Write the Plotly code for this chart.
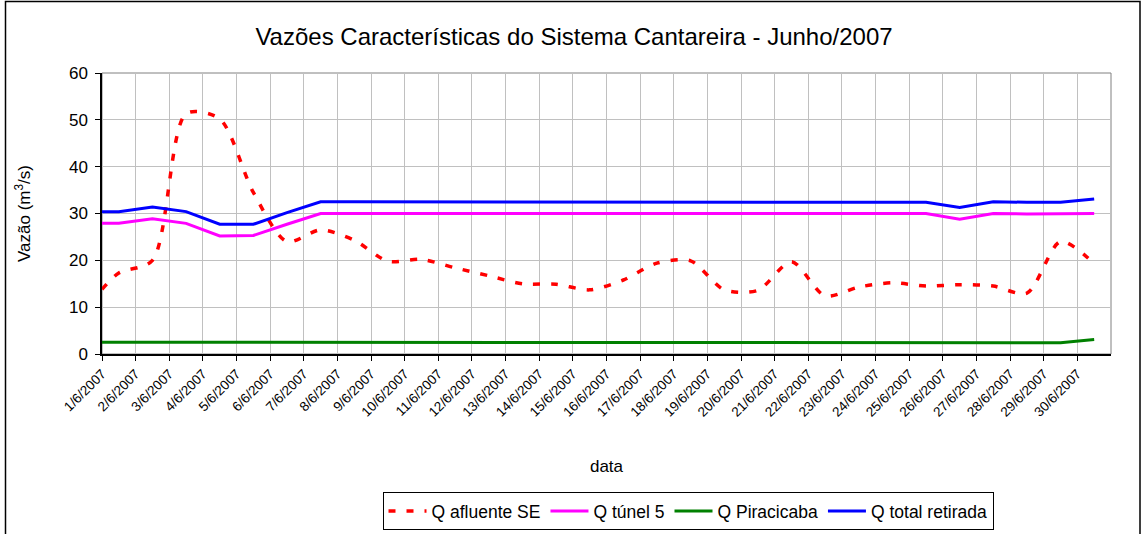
import plotly.graph_objects as go

# Datas (rótulos do eixo x)
datas = ["1/6/2007", "2/6/2007", "3/6/2007", "4/6/2007", "5/6/2007", "6/6/2007",
         "7/6/2007", "8/6/2007", "9/6/2007", "10/6/2007", "11/6/2007", "12/6/2007",
         "13/6/2007", "14/6/2007", "15/6/2007", "16/6/2007", "17/6/2007", "18/6/2007",
         "19/6/2007", "20/6/2007", "21/6/2007", "22/6/2007", "23/6/2007", "24/6/2007",
         "25/6/2007", "26/6/2007", "27/6/2007", "28/6/2007", "29/6/2007", "30/6/2007"]

# Valor no início do eixo (borda esquerda), seguido dos valores diários (m3/s)
q_afluente_se = [13.8,
                 17.3, 20.0, 51.3, 50.2, 34.5, 24.0, 26.5, 24.3, 19.8, 20.2,
                 18.4, 16.7, 15.0, 14.9, 13.7, 15.8, 19.4, 19.9, 13.7, 13.6,
                 19.7, 12.4, 14.3, 15.2, 14.5, 14.8, 14.5, 13.0, 24.0, 19.3]
q_tunel_5 = [27.9,
             27.9, 28.9, 27.9, 25.2, 25.3, 27.7, 30.0, 30.0, 30.0, 30.0,
             30.0, 30.0, 30.0, 30.0, 30.0, 30.0, 30.0, 30.0, 30.0, 30.0,
             30.0, 30.0, 30.0, 30.0, 30.0, 28.8, 30.0, 29.9, 29.9, 30.0]
q_piracicaba = [2.5,
                2.5, 2.5, 2.5, 2.5, 2.5, 2.5, 2.5, 2.5, 2.5, 2.5,
                2.5, 2.5, 2.5, 2.5, 2.5, 2.4, 2.5, 2.4, 2.5, 2.4,
                2.5, 2.4, 2.4, 2.4, 2.4, 2.5, 2.5, 2.4, 2.4, 3.1]
q_total_retirada = [30.4,
                    30.4, 31.4, 30.4, 27.7, 27.7, 30.2, 32.5, 32.5, 32.5, 32.5,
                    32.5, 32.5, 32.5, 32.5, 32.5, 32.4, 32.5, 32.4, 32.5, 32.4,
                    32.4, 32.4, 32.4, 32.4, 32.4, 31.3, 32.5, 32.4, 32.4, 33.1]

n = len(datas)
# posição: borda do eixo + centro de cada categoria
x_pos = [0] + [i + 0.5 for i in range(n)]

fig = go.Figure()
fig.add_trace(go.Scatter(x=x_pos, y=q_afluente_se, name="Q afluente SE", mode="lines",
                         line=dict(color="#FF0000", width=3.5, dash="7px,11px",
                                   shape="spline", smoothing=0.8)))
fig.add_trace(go.Scatter(x=x_pos, y=q_tunel_5, name="Q túnel 5", mode="lines",
                         line=dict(color="#FF00FF", width=3)))
fig.add_trace(go.Scatter(x=x_pos, y=q_piracicaba, name="Q Piracicaba", mode="lines",
                         line=dict(color="#008000", width=3)))
fig.add_trace(go.Scatter(x=x_pos, y=q_total_retirada, name="Q total retirada", mode="lines",
                         line=dict(color="#0000FF", width=3)))

W, H = 1144, 534
L, R, T, B = 102, 33, 73, 180
pw, ph = W - L - R, H - T - B

def px_x(v):
    return (v - L) / pw

def px_y(v):
    return (H - B - v) / ph

fig.update_layout(
    width=W, height=H,
    margin=dict(l=L, r=R, t=T, b=B, autoexpand=False),
    paper_bgcolor="white", plot_bgcolor="white",
    font=dict(family="Liberation Sans, Arial, sans-serif", color="black", size=17),
    title=dict(text="Vazões Características do Sistema Cantareira - Junho/2007",
               x=574 / W, xref="container", xanchor="center",
               y=1 - 37 / H, yref="container", yanchor="middle",
               font=dict(size=24)),
    showlegend=True,
    legend=dict(orientation="h", x=px_x(688), y=px_y(511), xanchor="center", yanchor="middle",
                bordercolor="black", borderwidth=1, font=dict(size=17.5),
                bgcolor="white", itemwidth=38),
    shapes=[
        dict(type="rect", xref="paper", yref="paper", x0=0, x1=1, y0=0, y1=1,
             line=dict(color="#808080", width=1), layer="below"),
        dict(type="rect", xref="paper", yref="paper",
             x0=px_x(5.5), x1=px_x(1140), y0=px_y(545), y1=px_y(1.5),
             line=dict(color="black", width=1.5), layer="below"),
    ],
)

fig.update_xaxes(
    range=[0, n], tickmode="array",
    tickvals=list(range(n)), ticktext=datas,
    tickangle=-45, ticks="outside", ticklen=5, tickcolor="black",
    tickfont=dict(size=13.5),
    showline=True, linecolor="black", linewidth=1.5,
    showgrid=True, gridcolor="#C0C0C0", gridwidth=1,
    zeroline=False, automargin=False,
    title=dict(text="data", font=dict(size=17), standoff=42),
)
fig.update_yaxes(
    range=[0, 60], tick0=0, dtick=10,
    ticks="outside", ticklen=5, tickcolor="black",
    tickfont=dict(size=17), ticklabelstandoff=4,
    showline=True, linecolor="black", linewidth=1.5,
    showgrid=True, gridcolor="#C0C0C0", gridwidth=1,
    zeroline=False, automargin=False,
    title=dict(text="Vazão (m<sup>3</sup>/s)", font=dict(size=17), standoff=34),
)

fig.write_html("out.html", config={"displayModeBar": False},
               post_script="document.body.style.margin='0';")
